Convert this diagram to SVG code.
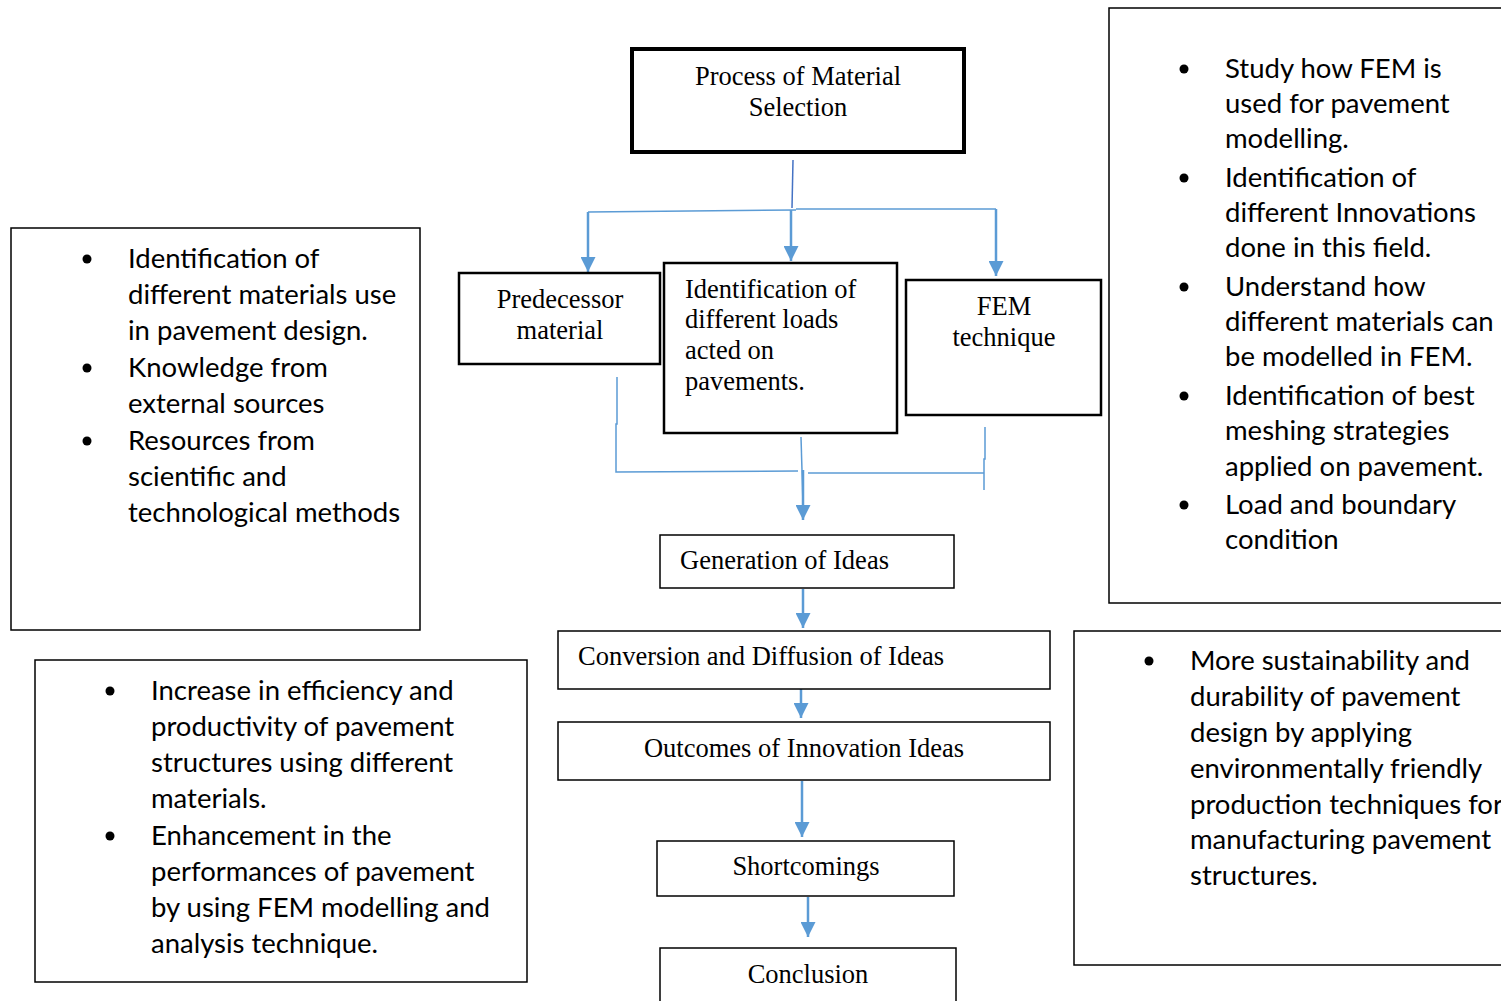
<svg xmlns="http://www.w3.org/2000/svg" width="1501" height="1001" viewBox="0 0 1501 1001">
<defs>
<marker id="ah" viewBox="0 0 10 10" refX="10" refY="5" markerWidth="6" markerHeight="6" markerUnits="strokeWidth" orient="auto">
<path d="M0,0 L10,5 L0,10 z" fill="#5B9BD5"/>
</marker>
<style>
.bx{fill:#fff;stroke:#000;stroke-width:1.5}
.bx2{fill:#fff;stroke:#000;stroke-width:2.5}
.bx4{fill:#fff;stroke:#000;stroke-width:4}
.ser{font-family:"Liberation Serif","Times New Roman",serif;font-size:26.5px;fill:#000}
.san{font-family:Lato,"Liberation Sans",sans-serif;font-size:27.5px;fill:#000}
.c{fill:none;stroke:#5B9BD5;stroke-width:2.5}
.t{fill:none;stroke:#5B9BD5;stroke-width:1.5}
.mid{text-anchor:middle}
</style>
</defs>
<rect width="1501" height="1001" fill="#fff"/>

<g id="connectors">
<line x1="793" y1="160" x2="792" y2="208" stroke="#4472C4" stroke-width="1.5"/>
<polyline class="t" points="588,212 796,210"/>
<polyline class="t" points="796,209 996,209"/>
<line class="c" x1="588" y1="212" x2="588" y2="272" marker-end="url(#ah)"/>
<line class="c" x1="791" y1="210" x2="791" y2="261" marker-end="url(#ah)"/>
<line class="c" x1="996" y1="209" x2="996" y2="276" marker-end="url(#ah)"/>
<polyline class="t" points="617,377 617,424 616,424 616,472 798,471" stroke="#4472C4"/>
<polyline class="t" points="808,473 984,473"/>
<polyline class="t" points="985,427 985,459 984,459 984,490"/>
<line class="t" x1="801" y1="437" x2="803" y2="505"/>
<line class="c" x1="803" y1="470" x2="803" y2="520" marker-end="url(#ah)"/>
<line class="c" x1="803" y1="589" x2="803" y2="628" marker-end="url(#ah)"/>
<line class="c" x1="801" y1="689" x2="801" y2="718" marker-end="url(#ah)"/>
<line class="c" x1="802" y1="781" x2="802" y2="837" marker-end="url(#ah)"/>
<line class="c" x1="808" y1="897" x2="808" y2="937" marker-end="url(#ah)"/>
</g>

<g id="process">
<rect class="bx4" x="632" y="49" width="332" height="103"/>
<text class="ser mid" x="798" y="85">Process of Material</text>
<text class="ser mid" x="798" y="116">Selection</text>
</g>

<g id="left-top">
<rect class="bx" x="11" y="228" width="409" height="402"/>
<g class="san">
<circle cx="87" cy="259" r="4.5"/>
<circle cx="87" cy="368" r="4.5"/>
<circle cx="87" cy="441" r="4.5"/>
<text x="128" y="268">Identification of</text>
<text x="128" y="304">different materials use</text>
<text x="128" y="340">in pavement design.</text>
<text x="128" y="377">Knowledge from</text>
<text x="128" y="413">external sources</text>
<text x="128" y="450">Resources from</text>
<text x="128" y="486">scientific and</text>
<text x="128" y="522">technological methods</text>
</g>
</g>

<g id="predecessor">
<rect class="bx2" x="459" y="273" width="201" height="91"/>
<text class="ser mid" x="560" y="308">Predecessor</text>
<text class="ser mid" x="560" y="339">material</text>
</g>

<g id="loads">
<rect class="bx2" x="664" y="263" width="233" height="170"/>
<text class="ser" x="685" y="298">Identification of</text>
<text class="ser" x="685" y="328">different loads</text>
<text class="ser" x="685" y="359">acted on</text>
<text class="ser" x="685" y="390">pavements.</text>
</g>

<g id="fem">
<rect class="bx2" x="906" y="280" width="195" height="135"/>
<text class="ser mid" x="1004" y="315">FEM</text>
<text class="ser mid" x="1004" y="346">technique</text>
</g>

<g id="right-top">
<rect class="bx" x="1109" y="8" width="400" height="595"/>
<g class="san">
<circle cx="1184" cy="69" r="4.5"/>
<circle cx="1184" cy="178" r="4.5"/>
<circle cx="1184" cy="287" r="4.5"/>
<circle cx="1184" cy="396" r="4.5"/>
<circle cx="1184" cy="505" r="4.5"/>
<text x="1225" y="78">Study how FEM is</text>
<text x="1225" y="113">used for pavement</text>
<text x="1225" y="148">modelling.</text>
<text x="1225" y="187">Identification of</text>
<text x="1225" y="222">different Innovations</text>
<text x="1225" y="257">done in this field.</text>
<text x="1225" y="296">Understand how</text>
<text x="1225" y="331">different materials can</text>
<text x="1225" y="366">be modelled in FEM.</text>
<text x="1225" y="405">Identification of best</text>
<text x="1225" y="440">meshing strategies</text>
<text x="1225" y="476">applied on pavement.</text>
<text x="1225" y="514">Load and boundary</text>
<text x="1225" y="549">condition</text>
</g>
</g>

<g id="generation">
<rect class="bx" x="660" y="535" width="294" height="53"/>
<text class="ser" x="680" y="569">Generation of Ideas</text>
</g>

<g id="conversion">
<rect class="bx" x="558" y="631" width="492" height="58"/>
<text class="ser" x="578" y="665">Conversion and Diffusion of Ideas</text>
</g>

<g id="outcomes">
<rect class="bx" x="558" y="722" width="492" height="58"/>
<text class="ser mid" x="804" y="757">Outcomes of Innovation Ideas</text>
</g>

<g id="shortcomings">
<rect class="bx" x="657" y="841" width="297" height="55"/>
<text class="ser mid" x="806" y="875">Shortcomings</text>
</g>

<g id="conclusion">
<rect class="bx" x="660" y="948" width="296" height="60"/>
<text class="ser mid" x="808" y="983">Conclusion</text>
</g>

<g id="left-bottom">
<rect class="bx" x="35" y="660" width="492" height="322"/>
<g class="san">
<circle cx="110" cy="691" r="4.5"/>
<circle cx="110" cy="836" r="4.5"/>
<text x="151" y="700">Increase in efficiency and</text>
<text x="151" y="736">productivity of pavement</text>
<text x="151" y="772">structures using different</text>
<text x="151" y="808">materials.</text>
<text x="151" y="845">Enhancement in the</text>
<text x="151" y="881">performances of pavement</text>
<text x="151" y="917">by using FEM modelling and</text>
<text x="151" y="953">analysis technique.</text>
</g>
</g>

<g id="right-bottom">
<rect class="bx" x="1074" y="631" width="440" height="334"/>
<g class="san">
<circle cx="1149" cy="661" r="4.5"/>
<text x="1190" y="670">More sustainability and</text>
<text x="1190" y="706">durability of pavement</text>
<text x="1190" y="742">design by applying</text>
<text x="1190" y="778">environmentally friendly</text>
<text x="1190" y="814">production techniques for</text>
<text x="1190" y="849">manufacturing pavement</text>
<text x="1190" y="885">structures.</text>
</g>
</g>
</svg>
